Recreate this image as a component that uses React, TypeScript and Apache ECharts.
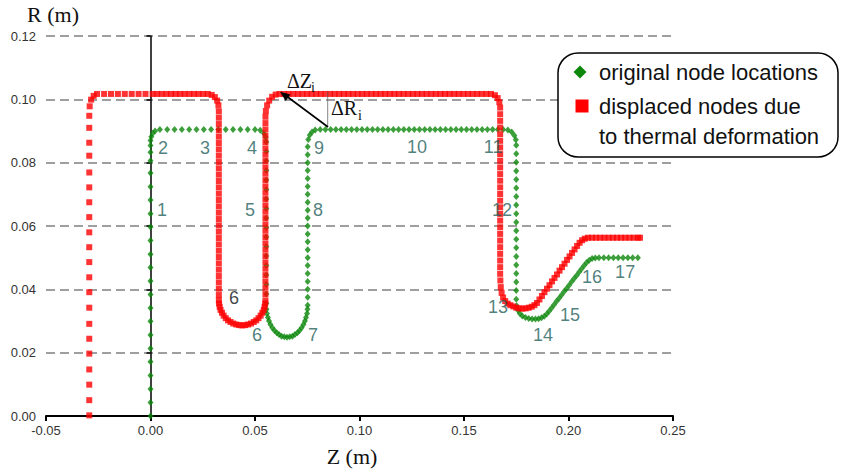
import React, { useEffect, useRef } from "react";
import * as echarts from "echarts";

// ---- axis ticks ----
const zTicks = [-0.05, 0.0, 0.05, 0.1, 0.15, 0.2, 0.25];
const rTicks = [0.0, 0.02, 0.04, 0.06, 0.08, 0.1, 0.12];

// ---- original node locations (green), [Z, R] ----
const origColumnA: [number, number][] = [
  [0, 0], [0, 0.0043], [0, 0.0085], [0, 0.0128], [0, 0.0171], [0, 0.0213], [0, 0.0256], [0, 0.0299],
  [0, 0.0341], [0, 0.0384], [0, 0.0426], [0, 0.0469], [0, 0.0511], [0, 0.0554], [0, 0.0597], [0, 0.0639],
  [0, 0.0682], [0, 0.0724], [0, 0.0767], [0, 0.0806], [0, 0.0833], [0, 0.0854], [0, 0.087],
  [0.0004, 0.0882], [0.0011, 0.0893], [0.0022, 0.09],
];
const origTopA: [number, number][] = [
  [0.0045, 0.0905], [0.008, 0.0905], [0.0115, 0.0905], [0.015, 0.0905], [0.0185, 0.0905], [0.022, 0.0905],
  [0.0255, 0.0905], [0.029, 0.0905], [0.0325, 0.0905], [0.036, 0.0905], [0.0395, 0.0905], [0.043, 0.0905],
  [0.0465, 0.0905], [0.05, 0.0905], [0.0525, 0.0902], [0.0542, 0.0893], [0.0551, 0.088],
];
const origDownB: [number, number][] = [
  [0.0554, 0.0865], [0.0554, 0.0835], [0.0554, 0.0805], [0.0554, 0.0775], [0.0554, 0.0745], [0.0554, 0.0715],
  [0.0554, 0.0685], [0.0554, 0.0655], [0.0554, 0.0625], [0.0554, 0.0595], [0.0554, 0.0565], [0.0554, 0.0535],
  [0.0554, 0.0505], [0.0554, 0.0475], [0.0554, 0.0445], [0.0554, 0.0415], [0.0554, 0.0385], [0.0554, 0.0355],
];
const origLoopC: [number, number][] = [
  [0.0555, 0.0337], [0.0557, 0.0324], [0.0562, 0.0311], [0.0567, 0.03], [0.0574, 0.0289], [0.0583, 0.0279],
  [0.0593, 0.027], [0.0604, 0.0263], [0.0615, 0.0257], [0.0627, 0.0252], [0.064, 0.025], [0.0653, 0.0249],
  [0.0666, 0.025], [0.0679, 0.0252], [0.0691, 0.0257], [0.0703, 0.0263], [0.0713, 0.027], [0.0723, 0.0279],
  [0.0732, 0.0289], [0.0739, 0.03], [0.0744, 0.0311], [0.0749, 0.0324], [0.0751, 0.0337], [0.0752, 0.035],
];
const origUpD: [number, number][] = [
  [0.0752, 0.0375], [0.0752, 0.04], [0.0752, 0.0425], [0.0752, 0.045], [0.0752, 0.0475], [0.0752, 0.05],
  [0.0752, 0.0525], [0.0752, 0.055], [0.0752, 0.0575], [0.0752, 0.06], [0.0752, 0.0625], [0.0752, 0.065],
  [0.0752, 0.0675], [0.0752, 0.07], [0.0752, 0.0725], [0.0752, 0.075], [0.0752, 0.0775], [0.0752, 0.08],
  [0.0752, 0.0825], [0.0752, 0.085], [0.0755, 0.0873], [0.0762, 0.0887], [0.0773, 0.0897], [0.0788, 0.0903],
];
const origTopE: [number, number][] = [
  [0.0812, 0.0905], [0.0837, 0.0905], [0.0862, 0.0905], [0.0887, 0.0905], [0.0912, 0.0905], [0.0937, 0.0905],
  [0.0962, 0.0905], [0.0987, 0.0905], [0.1012, 0.0905], [0.1037, 0.0905], [0.1062, 0.0905], [0.1087, 0.0905],
  [0.1112, 0.0905], [0.1137, 0.0905], [0.1162, 0.0905], [0.1187, 0.0905], [0.1212, 0.0905], [0.1237, 0.0905],
  [0.1262, 0.0905], [0.1287, 0.0905], [0.1312, 0.0905], [0.1337, 0.0905], [0.1362, 0.0905], [0.1387, 0.0905],
  [0.1412, 0.0905], [0.1437, 0.0905], [0.1462, 0.0905], [0.1487, 0.0905], [0.1512, 0.0905], [0.1537, 0.0905],
  [0.1562, 0.0905], [0.1587, 0.0905], [0.1612, 0.0905], [0.1637, 0.0905], [0.1662, 0.0905], [0.1687, 0.0905],
  [0.171, 0.0903], [0.1728, 0.0897], [0.1741, 0.0886], [0.1748, 0.0872],
];
const origDownF: [number, number][] = [
  [0.175, 0.0855], [0.175, 0.0828], [0.175, 0.0801], [0.175, 0.0774], [0.175, 0.0747], [0.175, 0.072],
  [0.175, 0.0693], [0.175, 0.0666], [0.175, 0.0639], [0.175, 0.0612], [0.175, 0.0585], [0.175, 0.0558],
  [0.175, 0.0531], [0.175, 0.0504], [0.175, 0.0477], [0.175, 0.045], [0.175, 0.0423], [0.175, 0.0396],
  [0.175, 0.0369], [0.1752, 0.0348], [0.1758, 0.0334], [0.1767, 0.0324], [0.1779, 0.0316], [0.1794, 0.0311],
  [0.181, 0.0308], [0.1826, 0.0306], [0.1842, 0.0306], [0.1857, 0.0307], [0.1871, 0.031], [0.1884, 0.0315],
  [0.1896, 0.0322], [0.1907, 0.0331],
];
const origRiseG: [number, number][] = [
  [0.1919, 0.0341], [0.1931, 0.0351], [0.1943, 0.0362], [0.1955, 0.0372], [0.1967, 0.0382], [0.1979, 0.0393],
  [0.1991, 0.0403], [0.2003, 0.0413], [0.2015, 0.0424], [0.2027, 0.0434], [0.2039, 0.0444], [0.2051, 0.0455],
  [0.2063, 0.0465], [0.2075, 0.0475], [0.2087, 0.0485], [0.2099, 0.0492], [0.2113, 0.0497], [0.2128, 0.0499],
  [0.2146, 0.05], [0.2169, 0.05], [0.2192, 0.05], [0.2215, 0.05], [0.2238, 0.05], [0.2261, 0.05],
  [0.2284, 0.05], [0.2307, 0.05], [0.2332, 0.05],
];

// ---- displaced nodes due to thermal deformation (red), [Z, R] ----
const dispColumnA: [number, number][] = [
  [-0.0293, 0.0002], [-0.0293, 0.005], [-0.0293, 0.0099], [-0.0293, 0.0147], [-0.0293, 0.0197], [-0.0293, 0.0244],
  [-0.0293, 0.0291], [-0.0293, 0.0342], [-0.0293, 0.0391], [-0.0293, 0.0438], [-0.0293, 0.0486], [-0.0293, 0.0533],
  [-0.0293, 0.058], [-0.0293, 0.0628], [-0.0293, 0.0675], [-0.0293, 0.0722], [-0.0293, 0.0769], [-0.0293, 0.0822],
  [-0.0293, 0.0863], [-0.0293, 0.091], [-0.0293, 0.0948], [-0.0291, 0.0978], [-0.0284, 0.0999], [-0.0272, 0.1011],
  [-0.0256, 0.1017],
];
const dispTopA: [number, number][] = [
  [-0.0222, 0.1017], [-0.0189, 0.1017], [-0.0156, 0.1017], [-0.0123, 0.1017], [-0.009, 0.1017], [-0.0057, 0.1017],
  [-0.0024, 0.1017], [0.001, 0.1017], [0.0032, 0.1017], [0.0054, 0.1017], [0.0076, 0.1017], [0.0098, 0.1017],
  [0.012, 0.1017], [0.0142, 0.1017], [0.0164, 0.1017], [0.0186, 0.1017], [0.0208, 0.1017], [0.023, 0.1017],
  [0.0252, 0.1017], [0.0274, 0.1017], [0.0293, 0.1014], [0.0308, 0.1007], [0.0319, 0.0996], [0.0325, 0.0981],
];
const dispDownB: [number, number][] = [
  [0.0327, 0.0962], [0.0327, 0.0942], [0.0327, 0.0922], [0.0327, 0.0902], [0.0327, 0.0882], [0.0327, 0.0862],
  [0.0327, 0.0842], [0.0327, 0.0822], [0.0327, 0.0802], [0.0327, 0.0782], [0.0327, 0.0762], [0.0327, 0.0742],
  [0.0327, 0.0722], [0.0327, 0.0702], [0.0327, 0.0682], [0.0327, 0.0662], [0.0327, 0.0642], [0.0327, 0.0622],
  [0.0327, 0.0602], [0.0327, 0.0582], [0.0327, 0.0562], [0.0327, 0.0542], [0.0327, 0.0522], [0.0327, 0.0502],
  [0.0327, 0.0482], [0.0327, 0.0462], [0.0327, 0.0442], [0.0327, 0.0422], [0.0327, 0.0402], [0.0327, 0.0382],
];
const dispLoopC: [number, number][] = [
  [0.0327, 0.0365], [0.0328, 0.0355], [0.0331, 0.0345], [0.0335, 0.0335], [0.0342, 0.0326], [0.035, 0.0317],
  [0.036, 0.0309], [0.0371, 0.0302], [0.0383, 0.0297], [0.0396, 0.0292], [0.041, 0.0289], [0.0424, 0.0287],
  [0.0439, 0.0286], [0.0453, 0.0287], [0.0467, 0.0289], [0.0481, 0.0292], [0.0494, 0.0297], [0.0506, 0.0302],
  [0.0517, 0.0309], [0.0527, 0.0317], [0.0535, 0.0326], [0.0542, 0.0335], [0.0546, 0.0345], [0.0549, 0.0355],
  [0.055, 0.0365],
];
const dispUpD: [number, number][] = [
  [0.055, 0.0385], [0.055, 0.0405], [0.055, 0.0425], [0.055, 0.0445], [0.055, 0.0465], [0.055, 0.0485],
  [0.055, 0.0505], [0.055, 0.0525], [0.055, 0.0545], [0.055, 0.0565], [0.055, 0.0585], [0.055, 0.0605],
  [0.055, 0.0625], [0.055, 0.0645], [0.055, 0.0665], [0.055, 0.0685], [0.055, 0.0705], [0.055, 0.0725],
  [0.055, 0.0745], [0.055, 0.0765], [0.055, 0.0785], [0.055, 0.0805], [0.055, 0.0825], [0.055, 0.0845],
  [0.055, 0.0865], [0.055, 0.0885], [0.055, 0.0905], [0.055, 0.0925], [0.055, 0.0945], [0.0552, 0.0963],
  [0.0558, 0.0981], [0.0568, 0.0996], [0.0582, 0.1008], [0.0599, 0.1015], [0.0617, 0.1017],
];
const dispTopE: [number, number][] = [
  [0.0639, 0.1017], [0.0661, 0.1017], [0.0683, 0.1017], [0.0705, 0.1017], [0.0727, 0.1017], [0.0749, 0.1017],
  [0.0771, 0.1017], [0.0793, 0.1017], [0.0815, 0.1017], [0.0837, 0.1017], [0.0859, 0.1017], [0.0881, 0.1017],
  [0.0903, 0.1017], [0.0925, 0.1017], [0.0947, 0.1017], [0.0969, 0.1017], [0.0991, 0.1017], [0.1013, 0.1017],
  [0.1035, 0.1017], [0.1057, 0.1017], [0.1079, 0.1017], [0.1101, 0.1017], [0.1123, 0.1017], [0.1145, 0.1017],
  [0.1167, 0.1017], [0.1189, 0.1017], [0.1211, 0.1017], [0.1233, 0.1017], [0.1255, 0.1017], [0.1277, 0.1017],
  [0.1299, 0.1017], [0.1321, 0.1017], [0.1343, 0.1017], [0.1365, 0.1017], [0.1387, 0.1017], [0.1409, 0.1017],
  [0.1431, 0.1017], [0.1453, 0.1017], [0.1475, 0.1017], [0.1497, 0.1017], [0.1519, 0.1017], [0.1541, 0.1017],
  [0.1563, 0.1017], [0.1585, 0.1017], [0.1607, 0.1017], [0.1629, 0.1017], [0.1648, 0.1013], [0.1661, 0.1004],
  [0.1669, 0.0991], [0.1673, 0.0974],
];
const dispDownF: [number, number][] = [
  [0.1673, 0.0953], [0.1673, 0.0932], [0.1673, 0.0911], [0.1673, 0.089], [0.1673, 0.0869], [0.1673, 0.0848],
  [0.1673, 0.0827], [0.1673, 0.0806], [0.1673, 0.0785], [0.1673, 0.0764], [0.1673, 0.0743], [0.1673, 0.0722],
  [0.1673, 0.0701], [0.1673, 0.068], [0.1673, 0.0659], [0.1673, 0.0638], [0.1673, 0.0617], [0.1673, 0.0596],
  [0.1673, 0.0575], [0.1673, 0.0554], [0.1673, 0.0533], [0.1673, 0.0512], [0.1673, 0.0491], [0.1673, 0.047],
  [0.1673, 0.0449], [0.1674, 0.0428], [0.1676, 0.0407], [0.168, 0.0389], [0.1687, 0.0374], [0.1697, 0.0363],
  [0.1709, 0.0355], [0.1722, 0.035], [0.1736, 0.0346], [0.175, 0.0342], [0.1765, 0.034], [0.178, 0.0339],
  [0.1795, 0.034], [0.181, 0.0342], [0.1824, 0.0345], [0.1837, 0.035], [0.1849, 0.0357],
];
const dispRiseG: [number, number][] = [
  [0.1861, 0.0368], [0.1873, 0.0379], [0.1885, 0.0391], [0.1897, 0.0402], [0.1909, 0.0413], [0.1921, 0.0425],
  [0.1933, 0.0436], [0.1945, 0.0447], [0.1957, 0.0459], [0.1969, 0.047], [0.1981, 0.0481], [0.1993, 0.0493],
  [0.2005, 0.0504], [0.2017, 0.0515], [0.2029, 0.0526], [0.2041, 0.0537], [0.2053, 0.0547], [0.2065, 0.0555],
  [0.2078, 0.056], [0.2093, 0.0563], [0.2112, 0.0563], [0.2132, 0.0563], [0.2152, 0.0563], [0.2172, 0.0563],
  [0.2192, 0.0563], [0.2212, 0.0563], [0.2232, 0.0563], [0.2252, 0.0563], [0.2272, 0.0563], [0.2292, 0.0563],
  [0.2312, 0.0563], [0.2332, 0.0563], [0.2342, 0.0563],
];

// ---- node number labels [Z, R, text] ----
const nodeLabels: [number, number, string][] = [
  [0.0055, 0.0651, "1"], [0.006, 0.0846, "2"], [0.0261, 0.0846, "3"], [0.0486, 0.0846, "4"],
  [0.0476, 0.0651, "5"], [0.051, 0.0256, "6"], [0.0778, 0.0256, "7"], [0.0801, 0.0651, "8"],
  [0.0806, 0.0846, "9"], [0.1275, 0.0849, "10"], [0.1639, 0.0849, "11"], [0.1682, 0.0651, "12"],
  [0.1663, 0.0344, "13"], [0.1878, 0.0256, "14"], [0.2007, 0.0319, "15"], [0.2113, 0.0439, "16"],
  [0.2271, 0.0455, "17"],
];
const displacedLabels: [number, number, string][] = [[0.04, 0.0373, "6"]];

const legendItems = ["original node locations", "displaced nodes due", "to thermal deformation"];

const originalNodes = [
  ...origColumnA, ...origTopA, ...origDownB, ...origLoopC, ...origUpD, ...origTopE, ...origDownF, ...origRiseG,
];
const displacedNodes = [
  ...dispColumnA, ...dispTopA, ...dispDownB, ...dispLoopC, ...dispUpD, ...dispTopE, ...dispDownF, ...dispRiseG,
];

const SANS = '"Liberation Sans", Arial, sans-serif';
const SERIF = '"Liberation Serif", "Times New Roman", serif';
const TEAL = "#1f5f5c";
const GREEN = "#0b870b";
const RED = "#ff0000";

const fmt = (v: number) => (Math.abs(v) < 1e-9 ? 0 : v).toFixed(2);

// grid geometry (pixels)
const GRID = { left: 46, right: 171, top: 36, bottom: 58 };
const PLOT_W = 844 - GRID.left - GRID.right;

export default function App() {
  const ref = useRef<HTMLDivElement>(null);
  useEffect(() => {
    if (!ref.current) return;
    const chart = echarts.init(ref.current, null, { renderer: "svg" });
    const zMin = zTicks[0];
    const zMax = zTicks[zTicks.length - 1];
    // shift of the second y axis so that it sits on Z = 0
    const zeroOffset = -((0 - zMin) / (zMax - zMin)) * PLOT_W;
    const labelSeries = (data: [number, number, string][], color: string) => ({
      type: "scatter",
      data,
      symbolSize: 1,
      itemStyle: { color: "rgba(0,0,0,0)" },
      silent: true,
      label: {
        show: true,
        position: "inside",
        formatter: (p: any) => p.data[2],
        color,
        fontSize: 18,
        fontFamily: SANS,
      },
    });
    chart.setOption({
      animation: false,
      backgroundColor: "#ffffff",
      grid: GRID,
      xAxis: {
        type: "value",
        min: zMin,
        max: zMax,
        interval: 0.05,
        axisLine: { onZero: false, lineStyle: { color: "#000", width: 2 } },
        axisTick: { length: 5, lineStyle: { color: "#000", width: 2 } },
        axisLabel: { formatter: fmt, color: "#333", fontSize: 13, fontFamily: SANS, margin: 8 },
        splitLine: { show: false },
      },
      yAxis: [
        {
          type: "value",
          min: rTicks[0],
          max: rTicks[rTicks.length - 1],
          interval: 0.02,
          axisLine: { show: false },
          axisTick: { show: false },
          axisLabel: { formatter: fmt, color: "#333", fontSize: 13, fontFamily: SANS, margin: 10 },
          splitLine: { show: true, lineStyle: { color: "#808080", width: 1.5, type: [9, 5] } },
        },
        {
          type: "value",
          position: "left",
          offset: zeroOffset,
          min: rTicks[0],
          max: rTicks[rTicks.length - 1],
          interval: 0.02,
          axisLine: { show: true, onZero: false, lineStyle: { color: "#000", width: 1.5 } },
          axisTick: { show: true, length: 4, lineStyle: { color: "#000", width: 1.5 } },
          axisLabel: { show: false },
          splitLine: { show: false },
        },
      ],
      series: [
        labelSeries(nodeLabels, TEAL),
        {
          type: "scatter",
          name: "original node locations",
          data: originalNodes,
          symbol: "diamond",
          symbolSize: [6, 7],
          itemStyle: { color: GREEN },
        },
        {
          type: "scatter",
          name: "displaced nodes due to thermal deformation",
          data: displacedNodes,
          symbol: "rect",
          symbolSize: 6,
          itemStyle: { color: RED },
        },
        labelSeries(displacedLabels, "#111"),
      ],
      graphic: [
        { type: "text", z: 100, x: 53, y: 14, style: { text: "R (m)", font: `22px ${SERIF}`, fill: "#111", textAlign: "center", textVerticalAlign: "middle" } },
        { type: "text", z: 100, x: 352, y: 456, style: { text: "Z (m)", font: `22px ${SERIF}`, fill: "#111", textAlign: "center", textVerticalAlign: "middle" } },
        // delta annotation
        { type: "line", z: 100, shape: { x1: 327.7, y1: 92, x2: 327.7, y2: 127 }, style: { stroke: "#666", lineWidth: 0.8 } },
        { type: "line", z: 100, shape: { x1: 328, y1: 127, x2: 287, y2: 96.5 }, style: { stroke: "#000", lineWidth: 1.6 } },
        { type: "polygon", z: 100, shape: { points: [[280, 91.7], [290.4, 94.4], [285.7, 100.9]] }, style: { fill: "#000" } },
        { type: "text", z: 100, x: 287, y: 81, style: { text: "ΔZ", font: `20px ${SERIF}`, fill: "#111", textAlign: "left", textVerticalAlign: "middle" } },
        { type: "text", z: 100, x: 311, y: 87, style: { text: "i", font: `14px ${SERIF}`, fill: "#111", textAlign: "left", textVerticalAlign: "middle" } },
        { type: "text", z: 100, x: 331, y: 108, style: { text: "ΔR", font: `20px ${SERIF}`, fill: "#111", textAlign: "left", textVerticalAlign: "middle" } },
        { type: "text", z: 100, x: 358, y: 115, style: { text: "i", font: `14px ${SERIF}`, fill: "#111", textAlign: "left", textVerticalAlign: "middle" } },
        // legend box
        { type: "rect", z: 100, shape: { x: 558, y: 53, width: 280, height: 104, r: 20 }, style: { fill: "#fff", stroke: "#000", lineWidth: 1.5 } },
        { type: "polygon", z: 101, shape: { points: [[580, 65.5], [586.5, 72], [580, 78.5], [573.5, 72]] }, style: { fill: GREEN } },
        { type: "rect", z: 101, shape: { x: 575.5, y: 99.5, width: 13, height: 13 }, style: { fill: RED } },
        { type: "text", z: 101, x: 599, y: 72, style: { text: legendItems[0], font: `22px ${SANS}`, fill: "#111", textAlign: "left", textVerticalAlign: "middle" } },
        { type: "text", z: 101, x: 599, y: 106, style: { text: legendItems[1], font: `22px ${SANS}`, fill: "#111", textAlign: "left", textVerticalAlign: "middle" } },
        { type: "text", z: 101, x: 599, y: 136, style: { text: legendItems[2], font: `22px ${SANS}`, fill: "#111", textAlign: "left", textVerticalAlign: "middle" } },
      ],
    });
    return () => chart.dispose();
  }, []);
  return (
    <div
      ref={ref}
      style={{ position: "fixed", left: 0, top: 0, width: 844, height: 474, background: "#fff" }}
    />
  );
}
